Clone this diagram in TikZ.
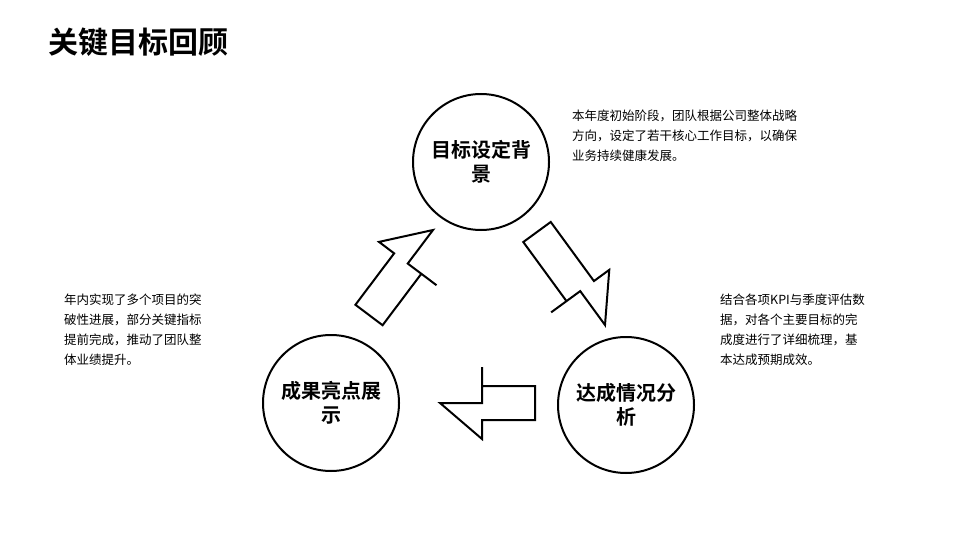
\documentclass[tikz,border=0pt]{standalone}
\usepackage{fontspec}
\setmainfont{Noto Sans CJK SC}
\newfontfamily\cjkb{Noto Sans CJK SC Bold}
\usetikzlibrary{calc}
\begin{document}
\begin{tikzpicture}[x=1pt,y=-1pt,
  circ/.style={draw=black,line width=2pt,circle,minimum size=136pt,inner sep=0pt,align=center,font=\cjkb\fontsize{20}{24}\selectfont,text width=110pt},
  para/.style={anchor=north west,inner sep=0pt,align=left,font=\fontsize{12.5}{20}\selectfont},
  blk/.style={draw=black,line width=2pt,fill=white,line join=miter}]
\useasboundingbox (0,0) rectangle (960,540);
\node[anchor=west,inner sep=0pt,font=\cjkb\fontsize{30}{34}\selectfont] (title) at (48,42) {关键目标回顾};
\node[circ] (c1) at (481,162) {目标设定背\\景};
\node[circ] (c2) at (626,405) {达成情况分\\析};
\node[circ] (c3) at (331,403) {成果亮点展\\示};
\node[para,text width=290pt] (t1) at (572,110) {本年度初始阶段，团队根据公司整体战略\\方向，设定了若干核心工作目标，以确保\\业务持续健康发展。};
\node[para,text width=190pt] (t2) at (720,294) {结合各项KPI与季度评估数\\据，对各个主要目标的完\\成度进行了详细梳理，基\\本达成预期成效。};
\node[para,text width=190pt] (t3) at (64,294) {年内实现了多个项目的突\\破性进展，部分关键指标\\提前完成，推动了团队整\\体业绩提升。};
\newcommand\blockarrow[2]{%
  \draw[blk] (#1) -- ($(#1)!42pt!(#2)$) coordinate (H) -- ($(H)!36pt!90:(#2)$) -- ($(H)!17pt!90:(#2)$) -- ($(#2)!17pt!-90:(#1)$) -- ($(#2)!17pt!90:(#1)$) -- ($(H)!17pt!-90:(#2)$) -- ($(H)!36pt!-90:(#2)$) -- cycle;}
\coordinate (a1t) at (605,325); \coordinate (a1b) at (537,232);
\coordinate (a2t) at (440,403); \coordinate (a2b) at (535,403);
\coordinate (a3t) at (433,230); \coordinate (a3b) at (369,315);
\draw[blk] (a1t) -- ($(a1t)!42pt!(a1b)$) coordinate (H1) -- ($(H1)!36pt!90:(a1b)$) -- ($(H1)!17pt!90:(a1b)$) -- ($(a1b)!17pt!-90:(a1t)$) -- ($(a1b)!17pt!90:(a1t)$) -- ($(H1)!17pt!-90:(a1b)$) -- ($(H1)!36pt!-90:(a1b)$) -- cycle;
\draw[blk] (a2t) -- ($(a2t)!42pt!(a2b)$) coordinate (H2) -- ($(H2)!36pt!90:(a2b)$) -- ($(H2)!17pt!90:(a2b)$) -- ($(a2b)!17pt!-90:(a2t)$) -- ($(a2b)!17pt!90:(a2t)$) -- ($(H2)!17pt!-90:(a2b)$) -- ($(H2)!36pt!-90:(a2b)$) -- cycle;
\draw[blk] (a3t) -- ($(a3t)!42pt!(a3b)$) coordinate (H3) -- ($(H3)!36pt!90:(a3b)$) -- ($(H3)!17pt!90:(a3b)$) -- ($(a3b)!17pt!-90:(a3t)$) -- ($(a3b)!17pt!90:(a3t)$) -- ($(H3)!17pt!-90:(a3b)$) -- ($(H3)!36pt!-90:(a3b)$) -- cycle;
\end{tikzpicture}
\end{document}
